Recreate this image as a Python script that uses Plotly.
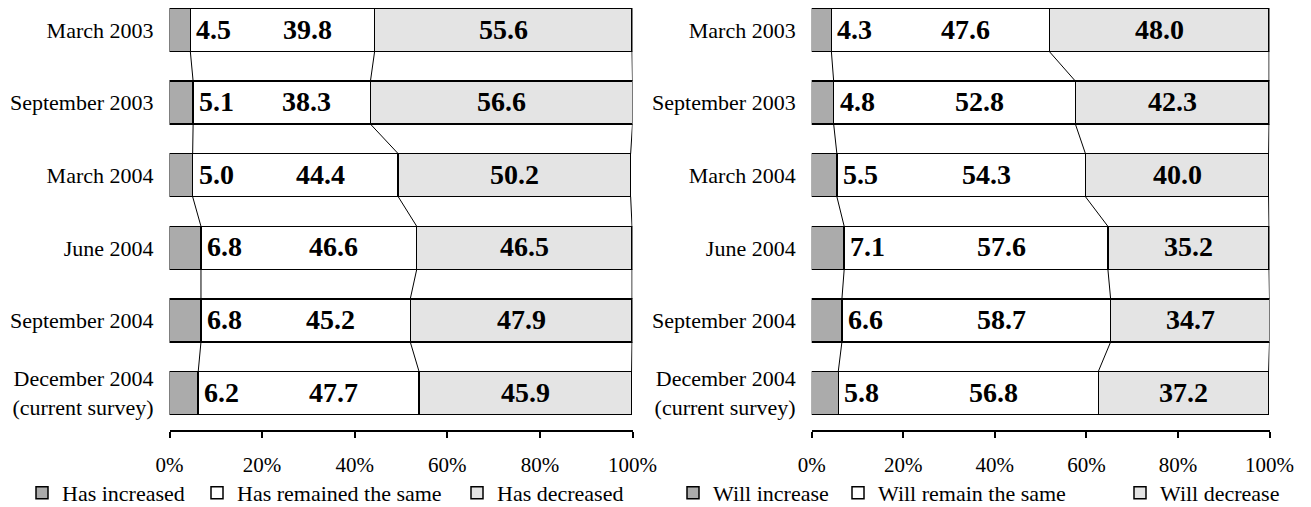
import plotly.graph_objects as go

categories = ["March 2003", "September 2003", "March 2004", "June 2004",
              "September 2004", "December 2004<br>(current survey)"]

# Left panel: past change
past_increased = [4.5, 5.1, 5.0, 6.8, 6.8, 6.2]
past_same = [39.8, 38.3, 44.4, 46.6, 45.2, 47.7]
past_decreased = [55.6, 56.6, 50.2, 46.5, 47.9, 45.9]
past_names = ["Has increased", "Has remained the same", "Has decreased"]

# Right panel: future outlook
future_increase = [4.3, 4.8, 5.5, 7.1, 6.6, 5.8]
future_same = [47.6, 52.8, 54.3, 57.6, 58.7, 56.8]
future_decrease = [48.0, 42.3, 40.0, 35.2, 34.7, 37.2]
future_names = ["Will increase", "Will remain the same", "Will decrease"]

tick_vals = [0, 20, 40, 60, 80, 100]
tick_labels = ["0%", "20%", "40%", "60%", "80%", "100%"]

FONT = "Times New Roman, Liberation Serif, serif"
COLORS = ["#ababab", "#ffffff", "#e4e4e4"]
BAR_W = 0.592
# the page body adds an 8px offset, so the figure is sized to fit the window
W, H = 1303, 499
PLOT_H = 422

# legend item positions (figure px, left edge of each legend box)
LEG_LEFT_X = [14, 189, 449]
LEG_RIGHT_X = [665, 830, 1112]

fig = go.Figure()
ypos = list(range(len(categories)))


def add_panel(series, names, xa, ya, legends):
    for vals, name, col, lg in zip(series, names, COLORS, legends):
        fig.add_trace(go.Bar(
            x=vals, y=ypos, orientation="h", name=name, width=BAR_W,
            marker=dict(color=col, line=dict(color="black", width=1.5)),
            xaxis=xa, yaxis=ya, legend=lg, hoverinfo="skip"))
    # connecting lines between segment boundaries
    cums = []
    for i in range(len(categories)):
        a = series[0][i]
        b = a + series[1][i]
        c = b + series[2][i]
        cums.append([a, b, c])
    lx, ly = [], []
    for k in range(3):
        for i in range(len(categories) - 1):
            lx += [cums[i][k], cums[i + 1][k], None]
            ly += [i + BAR_W / 2, i + 1 - BAR_W / 2, None]
    fig.add_trace(go.Scatter(x=lx, y=ly, mode="lines", showlegend=False,
                             line=dict(color="black", width=1),
                             xaxis=xa, yaxis=ya, hoverinfo="skip"))
    # value labels
    for i in range(len(categories)):
        v1, v2, v3 = series[0][i], series[1][i], series[2][i]
        lab = dict(xref=xa, yref=ya, y=i, showarrow=False, yshift=1,
                   font=dict(family=FONT, size=28, color="black"))
        fig.add_annotation(x=v1, text=f"<b>{v1:.1f}</b>", xanchor="left",
                           xshift=4, **lab)
        fig.add_annotation(x=v1 + v2 / 2, text=f"<b>{v2:.1f}</b>",
                           xanchor="center", xshift=25, **lab)
        fig.add_annotation(x=v1 + v2 + v3 / 2, text=f"<b>{v3:.1f}</b>",
                           xanchor="center", **lab)


add_panel([past_increased, past_same, past_decreased], past_names, "x", "y",
          ["legend", "legend2", "legend3"])
add_panel([future_increase, future_same, future_decrease], future_names, "x2", "y2",
          ["legend4", "legend5", "legend6"])

xax = dict(range=[0, 100], tickmode="array", tickvals=tick_vals, ticktext=tick_labels,
           showgrid=False, automargin=False,
           zeroline=False, showline=True, linecolor="black", linewidth=1.5,
           ticks="outside", ticklen=6, tickwidth=1.5, tickcolor="black",
           ticklabelstandoff=9,
           tickfont=dict(family=FONT, size=21, color="black"), fixedrange=True)
yax = dict(range=[5.509, -0.303], tickmode="array", tickvals=ypos, ticktext=categories,
           showgrid=False, zeroline=False, showline=False, ticks="",
           ticklabelstandoff=15, automargin=False,
           tickfont=dict(family=FONT, size=22, color="black"), fixedrange=True)

legend_font = dict(family=FONT, size=22, color="black")
leg_y = -63 / PLOT_H


def leg(xpx):
    return dict(orientation="h", x=xpx / W, xanchor="left", y=leg_y,
                yanchor="middle", font=legend_font, bgcolor="rgba(0,0,0,0)")


fig.update_layout(
    width=W, height=H, barmode="stack",
    margin=dict(l=0, r=0, t=0, b=H - PLOT_H, autoexpand=False),
    paper_bgcolor="white", plot_bgcolor="white",
    xaxis=dict(domain=[161.5 / W, 624.5 / W], anchor="y", **xax),
    xaxis2=dict(domain=[803.7 / W, 1261.5 / W], anchor="y2", **xax),
    yaxis=dict(domain=[0, 1], anchor="x", **yax),
    yaxis2=dict(domain=[0, 1], anchor="x2", **yax),
    legend=leg(LEG_LEFT_X[0]), legend2=leg(LEG_LEFT_X[1]), legend3=leg(LEG_LEFT_X[2]),
    legend4=leg(LEG_RIGHT_X[0]), legend5=leg(LEG_RIGHT_X[1]), legend6=leg(LEG_RIGHT_X[2]),
    showlegend=True,
)

fig.write_html("out.html")
